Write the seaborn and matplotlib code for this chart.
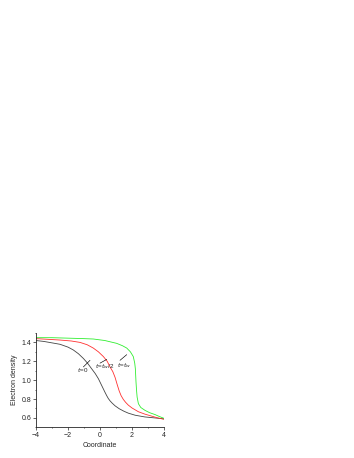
import matplotlib
matplotlib.use("Agg")
import matplotlib.pyplot as plt
import seaborn as sns
import pandas as pd
from matplotlib.ticker import MultipleLocator

sns.set_style("ticks")
plt.rcParams['font.family'] = ['Liberation Sans', 'DejaVu Sans']

# data
x_t0 = [-4, -3.5, -3, -2.5, -2, -1.67, -1.35, -1.04, -0.78, -0.52, -0.3, -0.1, 0.1, 0.3, 0.42, 0.52, 0.63, 0.75, 0.94, 1.2, 1.5, 1.77, 2.2, 2.8, 3.4, 4]
y_t0 = [1.42, 1.41, 1.395, 1.38, 1.35, 1.32, 1.28, 1.23, 1.18, 1.12, 1.07, 1.015, 0.945, 0.875, 0.835, 0.805, 0.78, 0.758, 0.728, 0.697, 0.67, 0.65, 0.628, 0.61, 0.60, 0.59]

x_half = [-4, -3, -2.5, -1.8, -1.25, -0.8, -0.42, -0.1, 0.21, 0.45, 0.625, 0.8, 0.94, 1.08, 1.2, 1.32, 1.46, 1.6, 1.77, 2.0, 2.4, 2.8, 3.2, 3.6, 4]
y_half = [1.44, 1.43, 1.425, 1.415, 1.40, 1.375, 1.34, 1.30, 1.25, 1.20, 1.14, 1.09, 1.03, 0.95, 0.885, 0.835, 0.795, 0.765, 0.735, 0.705, 0.665, 0.64, 0.62, 0.60, 0.585]

x_full = [-4, -3, -2, -1, -0.42, 0.3, 1.04, 1.4, 1.67, 1.9, 2.08, 2.17, 2.21, 2.23, 2.25, 2.28, 2.32, 2.4, 2.55, 2.81, 3.1, 3.44, 3.7, 4]
y_full = [1.45, 1.45, 1.445, 1.44, 1.436, 1.42, 1.39, 1.365, 1.34, 1.30, 1.25, 1.18, 1.12, 1.05, 0.98, 0.90, 0.82, 0.75, 0.71, 0.68, 0.655, 0.635, 0.615, 0.595]

fig = plt.figure(figsize=(3.54, 4.58), dpi=100)
ax = fig.add_axes([0.1017, 0.067, 0.3616, 0.206])

sns.lineplot(x=x_t0, y=y_t0, ax=ax, color='#444444', lw=0.6)
sns.lineplot(x=x_half, y=y_half, ax=ax, color='#ff3030', lw=0.6)
sns.lineplot(x=x_full, y=y_full, ax=ax, color='#30ee30', lw=0.6)

ax.set_xlim(-4, 4)
ax.set_ylim(0.5, 1.5)
ax.xaxis.set_major_locator(MultipleLocator(2))
ax.xaxis.set_minor_locator(MultipleLocator(1))
ax.yaxis.set_minor_locator(MultipleLocator(0.1))
ax.set_yticks([0.6, 0.8, 1.0, 1.2, 1.4])
ax.set_yticklabels(['0.6', '0.8', '1.0', '1.2', '1.4'])
ax.tick_params(which='major', length=2, width=0.5, labelsize=5, pad=1.5)
ax.tick_params(which='minor', length=1, width=0.5)
for s in ['top', 'right']:
    ax.spines[s].set_visible(False)
for s in ['left', 'bottom']:
    ax.spines[s].set_linewidth(0.6)

ax.set_xlabel('Coordinate', fontsize=5, labelpad=2)
ax.set_ylabel('Electron density', fontsize=5, labelpad=2)

lead = dict(arrowstyle='-', lw=0.45, color='k', shrinkA=0, shrinkB=0)
ax.text(-1.44, 1.085, r'$t$=0', fontsize=4.5)
ax.annotate('', xy=(-0.625, 1.21), xytext=(-1.04, 1.14), arrowprops=lead)
ax.text(-0.31, 1.13, r'$t$=$t_w$/2', fontsize=4.5)
ax.annotate('', xy=(0.42, 1.22), xytext=(0.0, 1.18), arrowprops=lead)
ax.text(1.06, 1.14, r'$t$=$t_w$', fontsize=4.5)
ax.annotate('', xy=(1.67, 1.27), xytext=(1.25, 1.21), arrowprops=lead)

fig.savefig('out.png', dpi=100)
